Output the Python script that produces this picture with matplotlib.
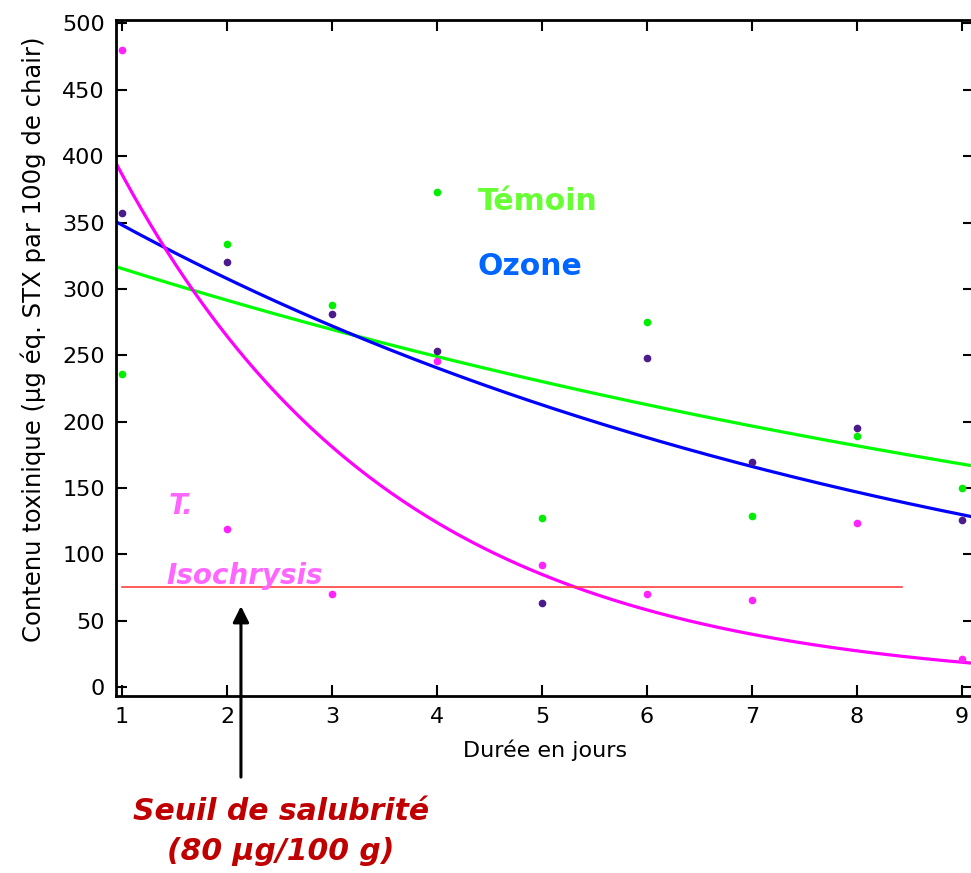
import numpy as np
import matplotlib
matplotlib.use("Agg")
import matplotlib.pyplot as plt

# data
days = [1, 2, 3, 4, 5, 6, 7, 8, 9]
temoin = [236, 334, 288, 373, 127, 275, 129, 189, 150]
ozone = [357, 320, 281, 253, 63, 248, 169.5, 195, 126]
isochrysis = [480, 119, 70, 246, 92, 70, 65.5, 123.5, 21]

# exponential trend lines y = a * exp(k * x), coefficients
temoin_fit = (341.1, -0.0787)
ozone_fit = (393.8, -0.1233)
iso_fit = (564.2, -0.379)

seuil = 75
seuil_x = [1, 8.43]

plt.rcParams["font.family"] = ["DejaVu Sans"]

fig = plt.figure(figsize=(9.71, 8.73), dpi=100)
ax = fig.add_axes([116 / 971, 1 - 696 / 873, 858 / 971, 676 / 873])

xmin, xmax = 0.943, 9.114
ymin, ymax = -6.8, 502.6
xs = np.linspace(xmin, xmax, 300)

for (a, k), col in [(temoin_fit, "#00ff00"), (ozone_fit, "#0000ff"), (iso_fit, "#ff00ff")]:
    ax.plot(xs, a * np.exp(k * xs), color=col, lw=2.3, zorder=2)

ax.plot(seuil_x, [seuil, seuil], color="#ff4040", lw=1.2, zorder=2)

ax.plot(days, temoin, "o", color="#00ee00", ms=4.5, zorder=3)
ax.plot(days, ozone, "o", color="#4b1a8c", ms=4.5, zorder=3)
ax.plot(days, isochrysis, "o", color="#ff22ff", ms=4.5, zorder=3)

ax.set_xlim(xmin, xmax)
ax.set_ylim(ymin, ymax)
ax.set_xticks(days)
ax.set_yticks(range(0, 501, 50))
ax.tick_params(direction="in", length=8, width=1.5, top=True, right=True,
               labelsize=16, pad=8)
for s in ax.spines.values():
    s.set_linewidth(2)
ax.spines["right"].set_visible(False)

ax.set_xlabel("Durée en jours", fontsize=16, labelpad=9)
ax.set_ylabel("Contenu toxinique (µg éq. STX par 100g de chair)", fontsize=17.5)
ax.yaxis.set_label_coords(-0.082, 0.527)

ax.text(4.39, 366, "Témoin", color="#66ff33", fontsize=21.5, fontweight="bold", va="center")
ax.text(4.39, 317, "Ozone", color="#0066ff", fontsize=21.5, fontweight="bold", va="center")
ax.text(1.44, 136, "T.", color="#ff66ff", fontsize=20, fontweight="bold",
        style="italic", va="center")
ax.text(1.42, 84, "Isochrysis", color="#ff66ff", fontsize=20, fontweight="bold",
        style="italic", va="center")

ax.annotate("", xy=(2.133, 63), xytext=(2.133, -70),
            arrowprops=dict(arrowstyle="-|>", color="black", lw=2.2, mutation_scale=24),
            annotation_clip=False)

fig.text(281 / 971, 1 - 812 / 873, "Seuil de salubrité", color="#c00000", fontsize=21.5,
         fontweight="bold", style="italic", ha="center", va="center")
fig.text(281 / 971, 1 - 852 / 873, "(80 µg/100 g)", color="#c00000", fontsize=21.5,
         fontweight="bold", style="italic", ha="center", va="center")

fig.savefig("out.png", dpi=100)
